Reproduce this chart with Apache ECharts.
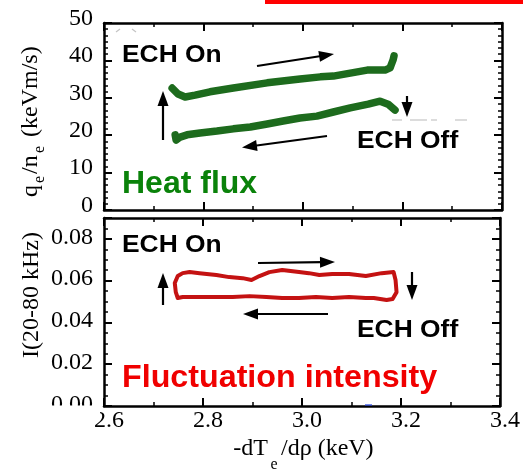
<!DOCTYPE html>
<html>
<head>
<meta charset="utf-8">
<script src="https://cdn.jsdelivr.net/npm/echarts@6/dist/echarts.min.js"></script>
<style>
html,body{margin:0;padding:0;background:#fff;}
#main{width:523px;height:469px;}
</style>
</head>
<body>
<div id="main"></div>
<script>
// Electron temperature gradient -dTe/drho (keV)
const xMin = 2.6, xMax = 3.4, xStep = 0.2;

// Heat flux qe/ne (keVm/s): ECH on branch (gradient rising)
const heatOnX = [2.737, 2.749, 2.763, 2.783, 2.813, 2.860, 2.928, 2.994, 3.035, 3.061, 3.095, 3.129, 3.165, 3.175, 3.181, 3.183];
const heatOnY = [32.6, 31.0, 30.2, 30.7, 31.6, 32.6, 34.0, 35.0, 35.6, 35.8, 36.6, 37.4, 37.4, 38.0, 40.1, 41.2];

// Heat flux: ECH off branch (gradient relaxing)
const heatOffX = [3.185, 3.171, 3.155, 3.131, 3.095, 3.061, 3.028, 2.994, 2.960, 2.928, 2.894, 2.860, 2.827, 2.793, 2.767, 2.753, 2.745, 2.743];
const heatOffY = [26.7, 28.3, 29.1, 28.3, 27.3, 26.2, 25.1, 24.6, 23.8, 23.0, 22.2, 21.7, 21.1, 20.6, 20.1, 19.5, 18.7, 20.1];

// Fluctuation intensity I(20-80 kHz): one full on/off cycle
const flucX = [2.745, 2.743, 2.749, 2.759, 2.773, 2.793, 2.827, 2.853, 2.880, 2.898, 2.914, 2.934, 2.960, 2.994, 3.014, 3.035, 3.061, 3.095, 3.129, 3.161, 3.185,
               3.189, 3.191, 3.183, 3.171,
               3.145, 3.129, 3.095, 3.061, 3.028, 2.994, 2.960, 2.928, 2.894, 2.860, 2.827, 2.793, 2.759, 2.749, 2.745];
const flucY = [0.0545, 0.0589, 0.0622, 0.0636, 0.0641, 0.0636, 0.0627, 0.0617, 0.0612, 0.0603, 0.0622, 0.0641, 0.0651, 0.0641, 0.0636, 0.0627, 0.0632, 0.0632, 0.0622, 0.0636, 0.0641,
               0.0603, 0.0545, 0.0512, 0.0507,
               0.0517, 0.0517, 0.0522, 0.0517, 0.0522, 0.0517, 0.0517, 0.0522, 0.0526, 0.0522, 0.0522, 0.0522, 0.0522, 0.0517, 0.0545];

const heatRange = [0, 50], heatStep = 10;
const flucRange = [0, 0.09], flucStep = 0.02;

const zip = (xs, ys) => xs.map((x, i) => [x, ys[i]]);

const chart = echarts.init(document.getElementById('main'), null, {renderer: 'canvas'});

const serif = '"Liberation Serif", "Times New Roman", serif';
const sans = '"Liberation Sans", Arial, sans-serif';
const black = '#000';

function frameAxis(extra) {
  return Object.assign({
    axisLine: {show: true, onZero: false, lineStyle: {color: black, width: 2.5}},
    axisTick: {show: true, inside: true, length: 8, lineStyle: {color: black, width: 2}},
    minorTick: {show: true, splitNumber: 2, length: 4, lineStyle: {color: black, width: 1.5}},
    splitLine: {show: false},
    axisLabel: {show: false}
  }, extra);
}

const xBase = {type: 'value', min: xMin, max: xMax, interval: xStep};

const xAxes = [
  frameAxis(Object.assign({gridIndex: 0, position: 'bottom'}, xBase)),
  frameAxis(Object.assign({gridIndex: 0, position: 'top'}, xBase)),
  frameAxis(Object.assign({gridIndex: 1, position: 'bottom'}, xBase, {
    axisLabel: {show: true, color: black, fontFamily: serif, fontSize: 24, margin: 3,
      padding: [0, 0, 0, 10], formatter: v => v.toFixed(1)}
  })),
  frameAxis(Object.assign({gridIndex: 1, position: 'top'}, xBase))
];

const heatBase = {type: 'value', min: heatRange[0], max: heatRange[1], interval: heatStep};
const flucBase = {type: 'value', min: flucRange[0], max: flucRange[1], interval: flucStep};

const yMinor = n => ({show: true, splitNumber: n, length: 4, lineStyle: {color: black, width: 1.5}});

const yAxes = [
  frameAxis(Object.assign({gridIndex: 0, position: 'left', minorTick: yMinor(6)}, heatBase, {
    axisLabel: {show: true, color: black, fontFamily: serif, fontSize: 24, margin: 11,
      verticalAlign: 'bottom', lineHeight: 9}
  })),
  frameAxis(Object.assign({gridIndex: 0, position: 'right', minorTick: yMinor(6)}, heatBase)),
  frameAxis(Object.assign({gridIndex: 1, position: 'left', minorTick: yMinor(4)}, flucBase, {
    axisLabel: {show: true, color: black, fontFamily: serif, fontSize: 24, margin: 11,
      verticalAlign: 'bottom', lineHeight: 3, showMaxLabel: false, formatter: v => v.toFixed(2)}
  })),
  frameAxis(Object.assign({gridIndex: 1, position: 'right', minorTick: yMinor(4)}, flucBase))
];

// annotation arrow: shaft plus filled head
function arrow(x1, y1, x2, y2) {
  const dx = x2 - x1, dy = y2 - y1, L = Math.hypot(dx, dy);
  const ux = dx / L, uy = dy / L, hl = 15, hw = 5.5;
  const bx = x2 - ux * hl, by = y2 - uy * hl;
  return [
    {type: 'line', z: 50, shape: {x1: x1, y1: y1, x2: bx + ux * 2, y2: by + uy * 2}, style: {stroke: black, lineWidth: 2.2}},
    {type: 'polygon', z: 50, shape: {points: [[x2, y2], [bx - uy * hw, by + ux * hw], [bx + uy * hw, by - ux * hw]]}, style: {fill: black}}
  ];
}

function label(text, x, y, size, color, sx) {
  return {type: 'text', z: 50, x: x, y: y, scaleX: sx || 1,
    style: {text: text, x: 0, y: 0, fill: color, font: 'bold ' + size + 'px ' + sans,
      textAlign: 'left', textVerticalAlign: 'middle'}};
}

function plain(text, x, y, size, align) {
  return {type: 'text', z: 50, x: x, y: y,
    style: {text: text, x: 0, y: 0, fill: black, font: size + 'px ' + serif,
      textAlign: align || 'left', textVerticalAlign: 'middle'}};
}

function faint(x1, y1, x2, y2, color) {
  return {type: 'line', z: 45, shape: {x1: x1, y1: y1, x2: x2, y2: y2}, style: {stroke: color || '#c4c4c4', lineWidth: 1.2}};
}

const graphics = [].concat(
  // hide the lower part of the bottom tick label below the frame
  [{type: 'rect', z: 40, shape: {x: 30, y: 405.5, width: 70, height: 12}, style: {fill: '#fff'}}],
  // top ribbon
  [{type: 'rect', z: 50, shape: {x: 265, y: 0, width: 258, height: 4}, style: {fill: '#f00'}}],
  // faint marks left on the panels
  [faint(116, 32, 120, 29), faint(132, 29, 136, 32), faint(392, 120, 402, 120), faint(410, 120, 427, 120),
   faint(431, 120, 437, 120), faint(455, 120, 467, 120), faint(365, 405, 372, 405, '#2040e0')],
  // upper panel notes
  label('ECH On', 122, 55, 24, black, 1.1),
  label('ECH Off', 357, 141, 24, black, 1.1),
  label('Heat flux', 122, 184, 32, '#0a820a', 1.0),
  arrow(257, 66, 334, 54),
  arrow(407, 96, 407, 117),
  arrow(163, 140, 163, 91),
  arrow(327, 136, 242, 147.5),
  // lower panel notes
  label('ECH On', 122, 245.5, 24, black, 1.1),
  label('ECH Off', 357, 330, 24, black, 1.1),
  label('Fluctuation intensity', 122, 378, 31, '#f00000', 1.04),
  arrow(258, 263, 335, 262),
  arrow(163, 305, 163, 273),
  arrow(328, 314, 243, 314),
  arrow(412, 272, 412, 300),
  // x axis title with subscript
  [plain('-dT', 268, 449, 24, 'right'), plain('e', 274, 465, 16, 'center'), plain('/d\u03c1 (keV)', 281, 449, 24, 'left')],
  // y axis titles (rotated, reading upward)
  [{type: 'group', x: 31, y: 197, rotation: Math.PI / 2, z: 50, children: [
    plain('q', 0, 0, 24, 'left'),
    plain('e', 14, 9, 16, 'left'),
    plain('/n', 23, 0, 24, 'left'),
    plain('e', 44, 9, 16, 'left'),
    plain('(keVm/s)', 60, 0, 24, 'left')
  ]}],
  [{type: 'group', x: 32, y: 295, rotation: Math.PI / 2, z: 50, children: [
    plain('I(20-80 kHz)', 0, 0, 24, 'center')
  ]}]
);

chart.setOption({
  animation: false,
  backgroundColor: '#fff',
  grid: [
    {left: 104, top: 23, width: 398, height: 187},
    {left: 104, top: 218, width: 398, height: 188}
  ],
  xAxis: xAxes,
  yAxis: yAxes,
  series: [
    {type: 'line', xAxisIndex: 0, yAxisIndex: 0, data: zip(heatOnX, heatOnY), showSymbol: false, smooth: false,
      lineStyle: {color: '#1d6b1d', width: 7.5, cap: 'round', join: 'round'}},
    {type: 'line', xAxisIndex: 0, yAxisIndex: 0, data: zip(heatOffX, heatOffY), showSymbol: false, smooth: false,
      lineStyle: {color: '#1d6b1d', width: 7.5, cap: 'round', join: 'round'}},
    {type: 'line', xAxisIndex: 2, yAxisIndex: 2, data: zip(flucX, flucY), showSymbol: false, smooth: false,
      lineStyle: {color: '#c41212', width: 4, cap: 'round', join: 'round'}}
  ],
  graphic: graphics
});
</script>
</body>
</html>
